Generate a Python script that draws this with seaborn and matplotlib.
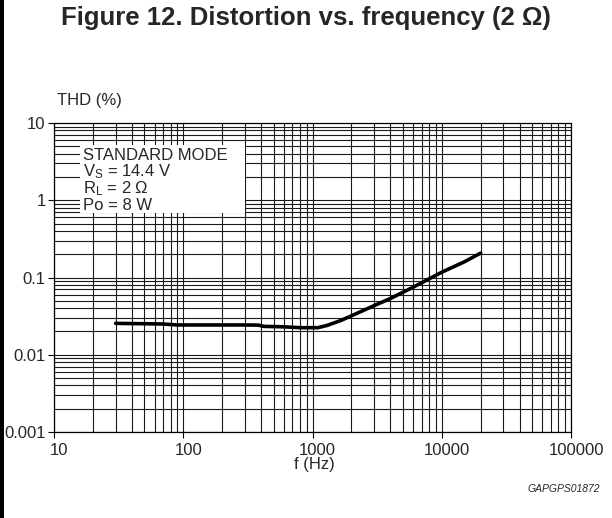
import matplotlib
matplotlib.use("Agg")
import matplotlib.pyplot as plt
import matplotlib.transforms as mtransforms
import seaborn as sns
import pandas as pd
from matplotlib.patches import Rectangle
from matplotlib.ticker import FixedLocator, NullFormatter, LogLocator

# ---- data ----
freq_hz = [30, 50, 70, 90, 150, 280, 380, 420, 600, 800, 1100, 1300, 1650, 2100, 3000, 4000, 6000, 10000, 15000, 20000]
thd_pct = [0.0255, 0.0252, 0.0250, 0.0243, 0.0243, 0.0243, 0.0242, 0.0233, 0.0230, 0.0224, 0.0224, 0.0240, 0.0277, 0.0331, 0.0433, 0.0534, 0.0748, 0.117, 0.160, 0.207]

x_ticks = [10, 100, 1000, 10000, 100000]
x_labels = ["10", "100", "1000", "10000", "100000"]
y_ticks = [0.001, 0.01, 0.1, 1, 10]
y_labels = ["0.001", "0.01", "0.1", "1", "10"]

title = "Figure 12. Distortion vs. frequency (2 \u03a9)"
conditions = ["STANDARD MODE",
              "V$_\\mathregular{S}$ = 14.4 V",
              "R$_\\mathregular{L}$ = 2 \u03a9",
              "Po = 8 W"]

sns.set_style("white")
plt.rcParams["font.family"] = ["Liberation Sans", "DejaVu Sans"]
plt.rcParams["mathtext.default"] = "regular"

df = pd.DataFrame({"f": freq_hz, "thd": thd_pct})

fig = plt.figure(figsize=(6.12, 5.18), dpi=100)
ax = fig.add_axes([54 / 612, 1 - 432 / 518, 517 / 612, 309 / 518])

sns.lineplot(data=df, x="f", y="thd", ax=ax, color="black", linewidth=2.6, zorder=3)

ax.set_xscale("log")
ax.set_yscale("log")
ax.set_xlim(10, 100000)
ax.set_ylim(0.001, 10)

ax.xaxis.set_major_locator(FixedLocator(x_ticks))
ax.set_xticklabels(x_labels)
ax.yaxis.set_major_locator(FixedLocator(y_ticks))
ax.set_yticklabels(y_labels)
ax.xaxis.set_minor_locator(LogLocator(base=10, subs=range(2, 10)))
ax.yaxis.set_minor_locator(LogLocator(base=10, subs=range(2, 10)))
ax.xaxis.set_minor_formatter(NullFormatter())
ax.yaxis.set_minor_formatter(NullFormatter())

ax.set_axisbelow(True)
ax.grid(True, which="both", color="#1a1a1a", linewidth=0.8)
ax.tick_params(axis="x", which="major", direction="out", length=4, width=0.8,
               color="black", labelsize=12, pad=4, bottom=True)
ax.tick_params(axis="y", which="major", direction="out", length=4, width=0.8,
               color="black", labelsize=12, pad=2, left=True)
ax.tick_params(axis="both", which="minor", length=0)
for s in ax.spines.values():
    s.set_color("black")
    s.set_linewidth(0.9)

shift = mtransforms.ScaledTranslation(5 / 100, 0, fig.dpi_scale_trans)
for lab in ax.get_xticklabels():
    lab.set_transform(lab.get_transform() + shift)

ax.set_xlabel("")
ax.set_ylabel("")

# condition box
ax.add_patch(Rectangle((26 / 517, (432 - 213) / 309), 165 / 517, 68 / 309,
                       transform=ax.transAxes, facecolor="white", edgecolor="none", zorder=2))
ys = [155, 172, 189, 206]
for txt, yy in zip(conditions, ys):
    ax.text(29 / 517, (432 - yy) / 309, txt, transform=ax.transAxes, fontsize=12,
            va="center", ha="left", zorder=4)

fig.text(0.5, 1 - 25 / 518, title, fontsize=18.5, fontweight="bold", ha="center", va="baseline")
fig.text(57 / 612, 1 - 101 / 518, "THD (%)", fontsize=12, ha="left", va="center")
fig.text(314 / 612, 1 - 465 / 518, "f (Hz)", fontsize=12, ha="center", va="center")
fig.text(600 / 612, 1 - 489 / 518, "GAPGPS01872", fontsize=7.5, style="italic", ha="right", va="center")

fig.patches.append(Rectangle((0, 0), 4 / 612, 1, transform=fig.transFigure,
                             facecolor="black", edgecolor="none"))

fig.savefig("out.png", dpi=100)
